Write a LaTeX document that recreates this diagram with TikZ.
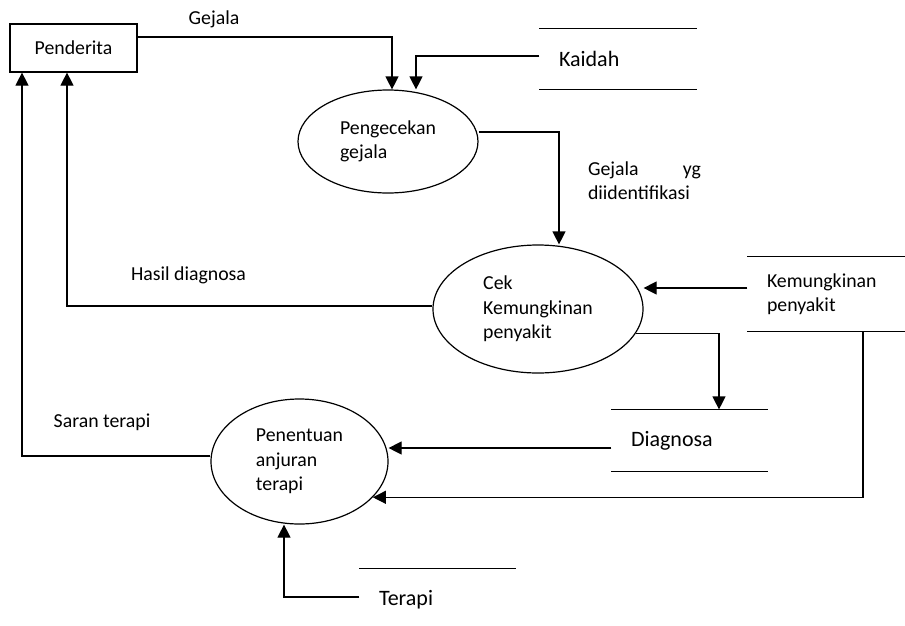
\documentclass[tikz,border=0pt]{standalone}
\usepackage{fontspec}
\setmainfont{Carlito}
\usetikzlibrary{arrows.meta}
\usetikzlibrary{shapes.geometric}

\begin{document}
\begin{tikzpicture}[x=1pt,y=-1pt,line width=1.2pt,
    font=\fontsize{19.8}{24.3}\selectfont,
    flow/.style={-{Triangle[length=13pt,width=13pt]}},
    proc/.style={ellipse,draw,align=left,inner sep=0pt},
    store/.style={minimum height=#1,align=left,inner xsep=19pt,inner ysep=0pt},
    big/.style={font=\fontsize{22}{26}\selectfont}]
    \useasboundingbox (0,0) rectangle (905,625);
    \node[draw,minimum width=127pt,minimum height=48pt] (pend) at (73.5,48) {Penderita};
    \node[proc,minimum width=180pt,minimum height=103pt] (peng) at (388,141.5) {Pengecekan\\gejala};
    \node[proc,minimum width=210pt,minimum height=128pt] (cek) at (538,309) {Cek\\Kemungkinan\\penyakit};
    \node[proc,minimum width=177pt,minimum height=125pt] (pen) at (299.5,461.5) {Penentuan\\anjuran\\terapi};
    \node[store=60pt,text width=118pt,big] (kaidah) at (618,59) {Kaidah};
    \node[store=74pt,text width=119pt] (kemung) at (826.5,294) {Kemungkinan\\penyakit};
    \node[store=61pt,text width=117pt,big] (diag) at (689.5,440.5) {Diagnosa};
    \node[store=62pt,text width=117pt,big] (terapi) at (437.5,600) {Terapi};
    \foreach \s in {kaidah,kemung,diag}
        \draw (\s.north west) -- (\s.north east) (\s.south west) -- (\s.south east);
    \draw (terapi.north west) -- (terapi.north east);
    \coordinate (kin) at ([yshift=6pt]kemung.west);
    \coordinate (dout) at ([yshift=-7.5pt]diag.west);
    \draw[flow] ([yshift=11pt]pend.east) -| ([xshift=4pt]peng.north);
    \draw[flow] ([yshift=3pt]kaidah.west) -| ([xshift=28pt]peng.north);
    \draw[flow] ([yshift=9.5pt]peng.east) -| ([xshift=21pt]cek.north);
    \draw[flow] (kin) -- (kin -| cek.east);
    \draw[flow] ([yshift=3pt]cek.west) -| ([xshift=-6.5pt]pend.south);
    \draw[flow] (cek.-14.5) -| ([xshift=29.5pt]diag.north);
    \draw[flow] (dout) -- (dout -| pen.east);
    \draw[flow] ([xshift=36.5pt]kemung.south) |- (pen.-26);
    \draw[flow] ([yshift=5.5pt]pen.west) -| ([xshift=-51.5pt]pend.south);
    \draw[flow] ([yshift=3pt]terapi.west) -| ([xshift=-15.5pt]pen.south);
    \node (lgejala) at (214,19) {Gejala};
    \node[text width=113pt,align=left,inner sep=0pt] (lgid) at (644.5,181) {Gejala\hfill yg\\diidentifikasi};
    \node (lhasil) at (188.5,275) {Hasil diagnosa};
    \node (lsaran) at (102,422) {Saran terapi};
\end{tikzpicture}
\end{document}
